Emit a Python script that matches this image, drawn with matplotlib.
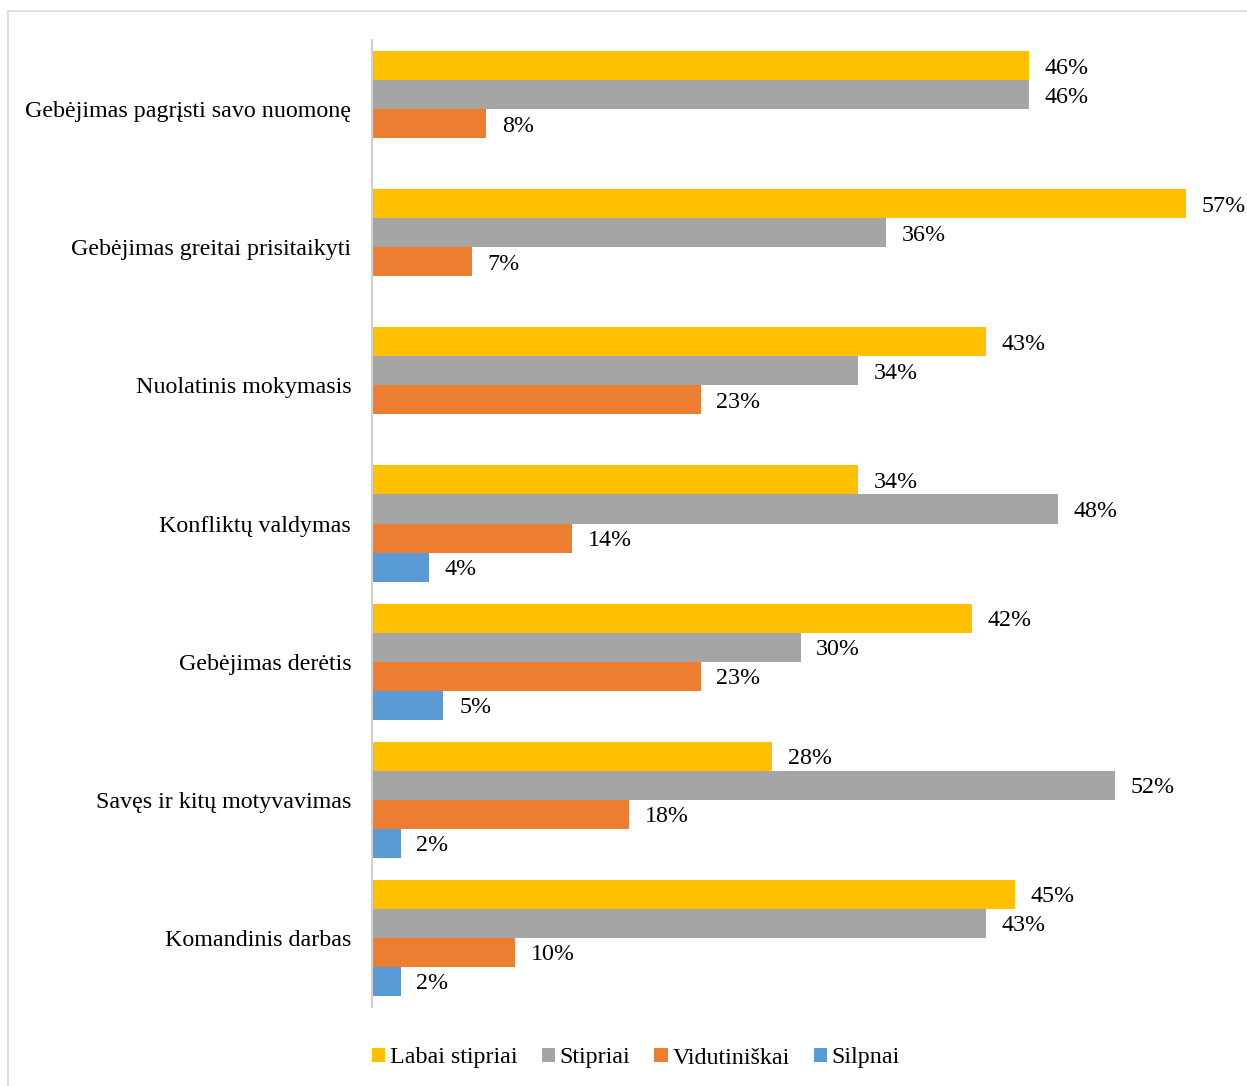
import matplotlib.pyplot as plt
from matplotlib.patches import Rectangle
import numpy as np

plt.rcParams['font.family'] = ['Liberation Serif', 'DejaVu Serif']

# Kompetencijos ir įvertinimų dalys (%)
kompetencijos = ["Gebėjimas pagrįsti savo nuomonę",
                 "Gebėjimas greitai prisitaikyti",
                 "Nuolatinis mokymasis",
                 "Konfliktų valdymas",
                 "Gebėjimas derėtis",
                 "Savęs ir kitų motyvavimas",
                 "Komandinis darbas"]
labai_stipriai = [46, 57, 43, 34, 42, 28, 45]
stipriai = [46, 36, 34, 48, 30, 52, 43]
vidutiniskai = [8, 7, 23, 14, 23, 18, 10]
silpnai = [0, 0, 0, 4, 5, 2, 2]

serijos = ["Labai stipriai", "Stipriai", "Vidutiniškai", "Silpnai"]
spalvos = ['#FFC000', '#A5A5A5', '#ED7D31', '#5B9BD5']
reiksmes = [labai_stipriai, stipriai, vidutiniskai, silpnai]

fs = 17.3

fig = plt.figure(figsize=(12.47, 10.86), dpi=100)
ax = fig.add_axes([372 / 1247, 1 - 1007 / 1086, 857 / 1247, 967 / 1086])

y = np.arange(len(kompetencijos))
h = 29 / 138

for j, (vals, name, col) in enumerate(zip(reiksmes, serijos, spalvos)):
    pos = y + (j - 1.5) * h
    ax.barh(pos, vals, height=h, color=col, label=name)
    for p, v in zip(pos, vals):
        if v > 0:
            ax.text(v + 1.1, p, f"{v}%", va='center_baseline', ha='left',
                    fontsize=fs)

ax.set_xlim(0, 60)
ax.set_ylim(len(kompetencijos) - 0.5, -0.5)
ax.set_yticks(y)
ax.set_yticklabels(kompetencijos, fontsize=fs)
ax.tick_params(axis='y', length=0, pad=15)
ax.set_xticks([])
for s in ['top', 'right', 'bottom']:
    ax.spines[s].set_visible(False)
ax.spines['left'].set_color('#D0D0D0')
ax.spines['left'].set_linewidth(1.5)

# Legenda apačioje
fig.legend(loc='center', bbox_to_anchor=(636 / 1247, 1 - 1058 / 1086), ncol=4,
           frameon=False, fontsize=fs, handlelength=0.55, handleheight=0.55,
           handletextpad=0.2, columnspacing=1.0)

# Rėmelis aplink diagramą
fig.patches.append(Rectangle((8 / 1247, -0.01), 1.0, 1 - 11 / 1086 + 0.01,
                             transform=fig.transFigure, fill=False,
                             edgecolor='#D9D9D9', linewidth=1.2))

fig.savefig('out.png', dpi=100)
